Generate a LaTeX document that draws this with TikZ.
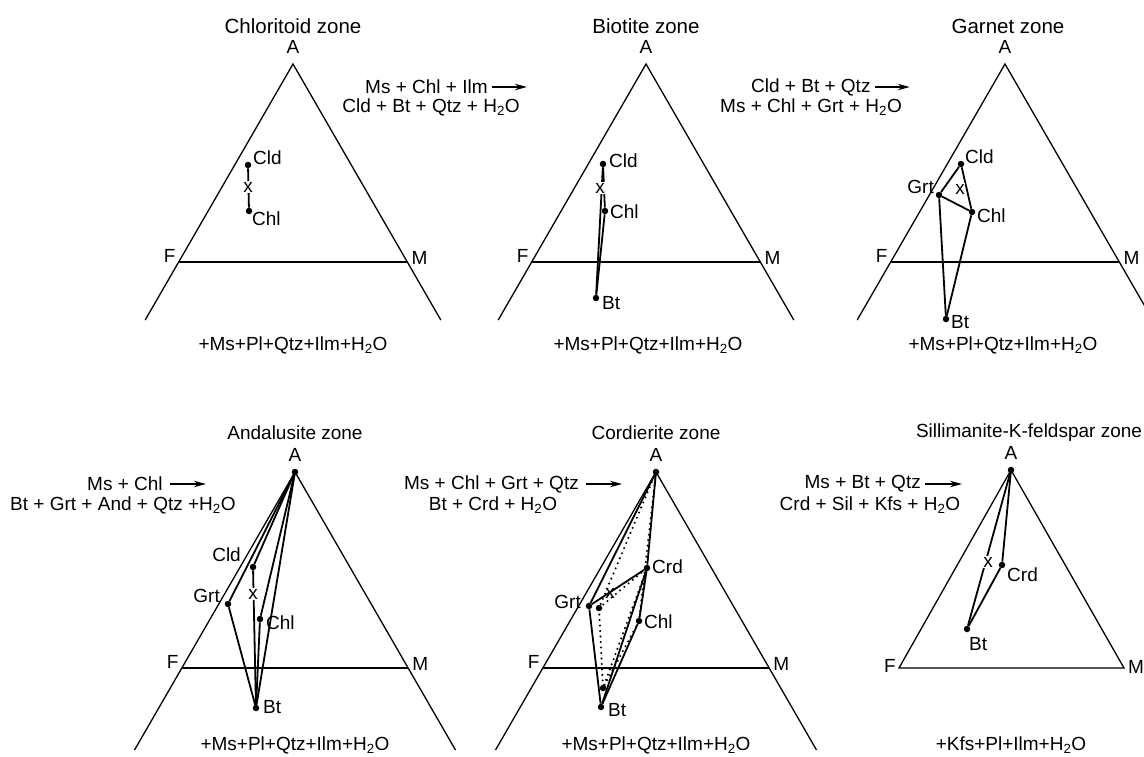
\documentclass[tikz,border=0pt]{standalone}
\usepackage{fontspec}
\setmainfont{Liberation Sans}
\usetikzlibrary{arrows.meta,calc}
\newcommand\HtwoO{H\textsubscript{2}O}
\begin{document}
\begin{tikzpicture}[x=1pt,y=-1pt,
  every node/.style={font=\fontsize{19}{22}\selectfont, inner sep=1pt},
  ttl/.style={font=\fontsize{20.5}{24}\selectfont},
  tri/.style={line width=1.3pt},
  tie/.style={line width=1.8pt, line join=round},
  dotl/.style={line width=2.3pt, dash pattern=on 0pt off 5.5pt, line cap=round},
  dot/.style={circle, fill, inner sep=0pt, minimum size=6.5pt},
  xm/.style={fill=white, inner sep=0.6pt},
  rx/.style={-{Stealth[length=12pt,width=6.5pt]}, line width=1.3pt}
]
\useasboundingbox (0,0) rectangle (1144,756);

% ---------------- Triangle 1: Chloritoid zone
\coordinate (t1A) at (293,64);
\coordinate (t1F) at (178.7,262); \coordinate (t1M) at (407.3,262);
\coordinate (t1Fb) at (145.2,320); \coordinate (t1Mb) at (440.8,320);
\draw[tri] (t1Fb) -- (t1A) -- (t1Mb);
\draw[tri] (t1F) -- (t1M);
\node[ttl] (t1title) at (293,26) {Chloritoid zone};
\node (t1Al) at (293,47) {A};
\node[anchor=east] (t1Fl) at ($(t1F)+(-2,-6)$) {F};
\node[anchor=west] (t1Ml) at ($(t1M)+(3,-4)$) {M};
\node (t1bot) at (293,345) {+Ms+Pl+Qtz+Ilm+\HtwoO};
\node[dot] (t1cld) at (248,165) {};
\node[dot] (t1chl) at (249,211) {};
\draw[tie] (t1cld) -- (t1chl);
\node[xm] (t1x) at (248,187) {x};
\node[anchor=west] (t1cldl) at (252,158) {Cld};
\node[anchor=west] (t1chll) at (251,219) {Chl};

% ---------------- Reaction 1
\node[anchor=west] (r1a) at (364,87) {Ms + Chl + Ilm};
\coordinate (r1s) at ($(r1a.east)+(3,0)$);
\coordinate (r1e) at ($(r1a.east)+(38,0)$);
\draw[rx] (r1s) -- (r1e);
\node (r1b) at (431,107) {Cld + Bt + Qtz + \HtwoO};

% ---------------- Triangle 2: Biotite zone
\coordinate (t2A) at (646,64);
\coordinate (t2F) at (531.7,262); \coordinate (t2M) at (760.3,262);
\coordinate (t2Fb) at (498.2,320); \coordinate (t2Mb) at (793.8,320);
\draw[tri] (t2Fb) -- (t2A) -- (t2Mb);
\draw[tri] (t2F) -- (t2M);
\node[ttl] (t2title) at (646,26) {Biotite zone};
\node (t2Al) at (646,47) {A};
\node[anchor=east] (t2Fl) at ($(t2F)+(-2,-6)$) {F};
\node[anchor=west] (t2Ml) at ($(t2M)+(3,-4)$) {M};
\node (t2bot) at (648,345) {+Ms+Pl+Qtz+Ilm+\HtwoO};
\node[dot] (t2cld) at (603,164) {};
\node[dot] (t2chl) at (605,211) {};
\node[dot] (t2bt) at (596,298) {};
\draw[tie] (t2cld) -- (t2chl);
\draw[tie] (t2chl) -- (t2bt);
\draw[tie] (t2cld) -- (t2bt);
\node[xm] (t2x) at (600,188) {x};
\node[anchor=west] (t2cldl) at (608,161) {Cld};
\node[anchor=west] (t2chll) at (609,212) {Chl};
\node[anchor=west] (t2btl) at (601,303) {Bt};

% ---------------- Reaction 2
\node[anchor=west] (r2a) at (750,87) {Cld + Bt + Qtz};
\coordinate (r2s) at ($(r2a.east)+(3,0)$);
\coordinate (r2e) at ($(r2a.east)+(38,0)$);
\draw[rx] (r2s) -- (r2e);
\node (r2b) at (811,107) {Ms + Chl + Grt + \HtwoO};

% ---------------- Triangle 3: Garnet zone
\coordinate (t3A) at (1005,64);
\coordinate (t3F) at (890.7,262); \coordinate (t3M) at (1119.3,262);
\coordinate (t3Fb) at (857.2,320); \coordinate (t3Mb) at (1152.8,320);
\draw[tri] (t3Fb) -- (t3A) -- (t3Mb);
\draw[tri] (t3F) -- (t3M);
\node[ttl] (t3title) at (1008,26) {Garnet zone};
\node (t3Al) at (1005,47) {A};
\node[anchor=east] (t3Fl) at ($(t3F)+(-2,-6)$) {F};
\node[anchor=west] (t3Ml) at ($(t3M)+(3,-4)$) {M};
\node (t3bot) at (1003,345) {+Ms+Pl+Qtz+Ilm+\HtwoO};
\node[dot] (t3cld) at (961,164) {};
\node[dot] (t3grt) at (939,195) {};
\node[dot] (t3chl) at (972,212) {};
\node[dot] (t3bt) at (946,319) {};
\draw[tie] (t3cld) -- (t3grt);
\draw[tie] (t3grt) -- (t3chl);
\draw[tie] (t3chl) -- (t3cld);
\draw[tie] (t3grt) -- (t3bt);
\draw[tie] (t3bt) -- (t3chl);
\node[xm] (t3x) at (960,189) {x};
\node[anchor=west] (t3cldl) at (964,157) {Cld};
\node[anchor=east] (t3grtl) at (935,187) {Grt};
\node[anchor=west] (t3chll) at (976,216) {Chl};
\node[anchor=west] (t3btl) at (950,322) {Bt};

% ---------------- Triangle 4: Andalusite zone
\node[dot] (t4A) at (295,472) {};
\coordinate (t4F) at (181.8,668); \coordinate (t4M) at (408.2,668);
\coordinate (t4Fb) at (134.5,750); \coordinate (t4Mb) at (455.5,750);
\draw[tri] (t4Fb) -- (t4A.center) -- (t4Mb);
\draw[tri] (t4F) -- (t4M);
\node (t4title) at (295,433) {Andalusite zone};
\node (t4Al) at (295,455) {A};
\node[anchor=east] (t4Fl) at ($(t4F)+(-2,-6)$) {F};
\node[anchor=west] (t4Ml) at ($(t4M)+(3,-4)$) {M};
\node (t4bot) at (295,745) {+Ms+Pl+Qtz+Ilm+\HtwoO};
\node[dot] (t4cld) at (253,567) {};
\node[dot] (t4grt) at (228,604) {};
\node[dot] (t4chl) at (260,619) {};
\node[dot] (t4bt) at (256,708) {};
\draw[tie] (t4A.center) -- (t4grt);
\draw[tie] (t4grt) -- (t4bt);
\draw[tie] (t4A.center) -- (t4cld);
\draw[tie] (t4cld) -- (t4bt);
\draw[tie] (t4A.center) -- (t4chl);
\draw[tie] (t4chl) -- (t4bt);
\draw[tie] (t4A.center) -- (t4bt);
\node[xm] (t4x) at (253,594) {x};
\node[anchor=east] (t4cldl) at (242,555) {Cld};
\node[anchor=east] (t4grtl) at (221,596) {Grt};
\node[anchor=west] (t4chll) at (265,623) {Chl};
\node[anchor=west] (t4btl) at (262,707) {Bt};

% ---------------- Reaction 3
\node[anchor=west] (r3a) at (86,484) {Ms + Chl};
\coordinate (r3s) at ($(r3a.east)+(6,0)$);
\coordinate (r3e) at ($(r3a.east)+(42,0)$);
\draw[rx] (r3s) -- (r3e);
\node[anchor=west] (r3b) at (9,505) {Bt + Grt + And + Qtz +\HtwoO};

% ---------------- Triangle 5: Cordierite zone
\node[dot] (t5A) at (656,472) {};
\coordinate (t5F) at (542.8,668); \coordinate (t5M) at (769.2,668);
\coordinate (t5Fb) at (495.5,750); \coordinate (t5Mb) at (816.5,750);
\draw[tri] (t5Fb) -- (t5A.center) -- (t5Mb);
\draw[tri] (t5F) -- (t5M);
\node (t5title) at (656,433) {Cordierite zone};
\node (t5Al) at (656,455) {A};
\node[anchor=east] (t5Fl) at ($(t5F)+(-2,-6)$) {F};
\node[anchor=west] (t5Ml) at ($(t5M)+(3,-4)$) {M};
\node (t5bot) at (656,745) {+Ms+Pl+Qtz+Ilm+\HtwoO};
\node[dot] (t5crd) at (647,568) {};
\node[dot] (t5grt) at (589,606) {};
\node[dot] (t5g2) at (599,608) {};
\node[dot] (t5chl) at (639,621) {};
\node[dot] (t5bt) at (601,707) {};
\node[dot] (t5b2) at (603,688) {};
\draw[dotl] (t5A.center) -- (t5g2.center) -- (t5b2.center) -- (t5chl.center) -- (t5A.center);
\draw[dotl] (t5g2.center) -- (t5crd.center) -- (t5b2.center);
\draw[tie] (t5A.center) -- (t5grt);
\draw[tie] (t5grt) -- (t5bt);
\draw[tie] (t5grt) -- (t5crd);
\draw[tie] (t5A.center) -- (t5crd);
\draw[tie] (t5crd) -- (t5chl);
\draw[tie] (t5chl) -- (t5bt);
\draw[tie] (t5crd) -- (t5bt);
\node[inner sep=0.6pt] (t5x) at (610,593) {x};
\node[anchor=west] (t5crdl) at (651,567) {Crd};
\node[anchor=east] (t5grtl) at (582,602) {Grt};
\node[anchor=west] (t5chll) at (643,622) {Chl};
\node[anchor=west] (t5btl) at (607,710) {Bt};

% ---------------- Reaction 4
\node[anchor=east] (r4a) at (580,484) {Ms + Chl + Grt + Qtz};
\coordinate (r4s) at ($(r4a.east)+(6,0)$);
\coordinate (r4e) at ($(r4a.east)+(42,0)$);
\draw[rx] (r4s) -- (r4e);
\node (r4b) at (493,505) {Bt + Crd + \HtwoO};

% ---------------- Triangle 6: Sillimanite-K-feldspar zone
\node[dot] (t6A) at (1011,470) {};
\coordinate (t6F) at (899,668); \coordinate (t6M) at (1124,668);
\draw[tri] (t6A.center) -- (t6F) -- (t6M) -- (t6A.center);
\node (t6title) at (1029,433) {Sillimanite-K-feldspar zone};
\node (t6Al) at (1011,453) {A};
\node[anchor=east] (t6Fl) at ($(t6F)+(-2,-2)$) {F};
\node[anchor=west] (t6Ml) at ($(t6M)+(3,-1)$) {M};
\node (t6bot) at (1011,745) {+Kfs+Pl+Ilm+\HtwoO};
\node[dot] (t6crd) at (1002,565) {};
\node[dot] (t6bt) at (967,629) {};
\draw[tie] (t6A.center) -- (t6bt);
\draw[tie] (t6bt) -- (t6crd);
\draw[tie] (t6crd) -- (t6A.center);
\node[xm] (t6x) at (988,562) {x};
\node[anchor=west] (t6crdl) at (1006,575) {Crd};
\node[anchor=west] (t6btl) at (968,644) {Bt};

% ---------------- Reaction 5
\node[anchor=east] (r5a) at (922,484) {Ms + Bt + Qtz};
\coordinate (r5s) at ($(r5a.east)+(3,0)$);
\coordinate (r5e) at ($(r5a.east)+(40,0)$);
\draw[rx] (r5s) -- (r5e);
\node (r5b) at (870,505) {Crd + Sil + Kfs + \HtwoO};
\end{tikzpicture}
\end{document}
